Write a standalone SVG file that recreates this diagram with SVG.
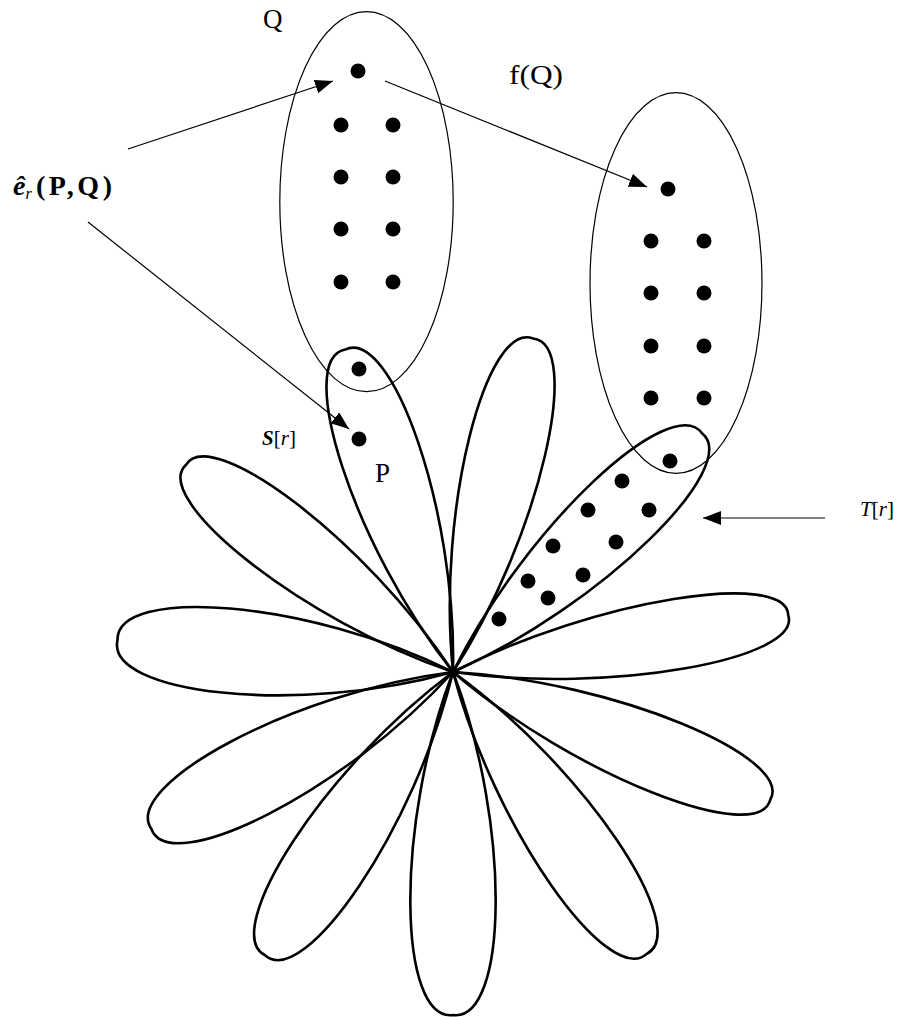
<svg xmlns="http://www.w3.org/2000/svg" xmlns:xlink="http://www.w3.org/1999/xlink" width="899" height="1017" viewBox="0 0 899 1017">
<style>
.petal{fill:none;stroke:#000;stroke-width:2.6}
.set{fill:none;stroke:#000;stroke-width:1.2}
.dot{fill:#000}
.conn{fill:none;stroke:#000;stroke-width:1.2}
text{font-family:"Liberation Serif","Times New Roman",serif;fill:#000}
</style>
<defs>
<path id="petal" vector-effect="non-scaling-stroke" d="M0,0 C0.45,-0.65 1.02,-0.6 1,0 C1.02,0.6 0.45,0.65 0,0 Z"/>
<marker id="ah" markerUnits="userSpaceOnUse" markerWidth="20" markerHeight="16" refX="18" refY="7" orient="auto">
<path d="M0,0 L18,7 L0,14 Z" fill="#000"/>
</marker>
</defs>
<rect width="899" height="1017" fill="#fff"/>

<g id="flower">
<use xlink:href="#petal" href="#petal" class="petal" transform="translate(453,672) rotate(-108.5) scale(340,85)"/>
<use xlink:href="#petal" href="#petal" class="petal" transform="translate(453,672) rotate(-76.5) scale(343,83)"/>
<use xlink:href="#petal" href="#petal" class="petal" transform="translate(453,672) rotate(-43.8) scale(345,86)"/>
<use xlink:href="#petal" href="#petal" class="petal" transform="translate(453,672) rotate(-9.6) scale(340,75)"/>
<use xlink:href="#petal" href="#petal" class="petal" transform="translate(453,672) rotate(21.9) scale(342,80)"/>
<use xlink:href="#petal" href="#petal" class="petal" transform="translate(453,672) rotate(55.5) scale(342,85)"/>
<use xlink:href="#petal" href="#petal" class="petal" transform="translate(453,672) rotate(90) scale(343,91)"/>
<use xlink:href="#petal" href="#petal" class="petal" transform="translate(453,672) rotate(123.5) scale(340,85)"/>
<use xlink:href="#petal" href="#petal" class="petal" transform="translate(453,672) rotate(152.5) scale(340,87)"/>
<use xlink:href="#petal" href="#petal" class="petal" transform="translate(453,672) rotate(185.4) scale(337,90)"/>
<use xlink:href="#petal" href="#petal" class="petal" transform="translate(453,672) rotate(217.7) scale(338,80)"/>
</g>

<g id="set-Q">
<ellipse class="set" cx="366.5" cy="201.7" rx="86.7" ry="190"/>
</g>
<g id="set-fQ">
<ellipse class="set" cx="676" cy="283" rx="86" ry="190.3"/>
</g>

<g id="dots-Q">
<circle class="dot" cx="358" cy="71" r="7.5"/>
<circle class="dot" cx="341" cy="125" r="7.5"/><circle class="dot" cx="393" cy="125" r="7.5"/>
<circle class="dot" cx="341" cy="177" r="7.5"/><circle class="dot" cx="393" cy="177" r="7.5"/>
<circle class="dot" cx="341" cy="229" r="7.5"/><circle class="dot" cx="393" cy="229" r="7.5"/>
<circle class="dot" cx="341" cy="282" r="7.5"/><circle class="dot" cx="393" cy="282" r="7.5"/>
<circle class="dot" cx="359" cy="369" r="7.5"/>
</g>
<g id="dot-P">
<circle class="dot" cx="359" cy="439" r="7.5"/>
</g>
<g id="dots-fQ">
<circle class="dot" cx="668" cy="189" r="7.5"/>
<circle class="dot" cx="651" cy="241" r="7.5"/><circle class="dot" cx="704" cy="241" r="7.5"/>
<circle class="dot" cx="651" cy="293" r="7.5"/><circle class="dot" cx="704" cy="293" r="7.5"/>
<circle class="dot" cx="651" cy="346" r="7.5"/><circle class="dot" cx="704" cy="346" r="7.5"/>
<circle class="dot" cx="651" cy="398" r="7.5"/><circle class="dot" cx="704" cy="398" r="7.5"/>
<circle class="dot" cx="670" cy="461" r="7.5"/>
</g>
<g id="dots-T">
<circle class="dot" cx="622" cy="481" r="7.5"/>
<circle class="dot" cx="588" cy="510" r="7.5"/><circle class="dot" cx="649" cy="510" r="7.5"/>
<circle class="dot" cx="553" cy="546" r="7.5"/><circle class="dot" cx="616" cy="542" r="7.5"/>
<circle class="dot" cx="528" cy="581" r="7.5"/><circle class="dot" cx="583" cy="575" r="7.5"/>
<circle class="dot" cx="548" cy="598" r="7.5"/>
<circle class="dot" cx="499" cy="619" r="7.5"/>
</g>

<g id="connectors">
<line class="conn" x1="128" y1="149" x2="333" y2="81" marker-end="url(#ah)"/>
<line class="conn" x1="385" y1="81" x2="647" y2="187" marker-end="url(#ah)"/>
<line class="conn" x1="88" y1="222" x2="349" y2="429" marker-end="url(#ah)"/>
<line class="conn" x1="825" y1="518" x2="703" y2="518" marker-end="url(#ah)"/>
</g>

<g id="labels">
<text x="263" y="28" font-size="27">Q</text>
<text x="509" y="84" font-size="27" textLength="54" lengthAdjust="spacingAndGlyphs">f(Q)</text>
<text x="13" y="195" font-size="28" font-weight="bold"><tspan font-style="italic">ê</tspan><tspan font-size="16" font-style="italic" font-weight="normal" dy="4">r</tspan><tspan x="36" dy="-4" letter-spacing="3.5">(P,Q)</tspan></text>
<text x="262" y="445" font-size="21"><tspan font-style="italic" font-weight="bold">S</tspan>[<tspan font-style="italic">r</tspan>]</text>
<text x="375" y="482" font-size="27">P</text>
<text x="860" y="516" font-size="21"><tspan font-style="italic">T</tspan>[<tspan font-style="italic">r</tspan>]</text>
</g>
</svg>
